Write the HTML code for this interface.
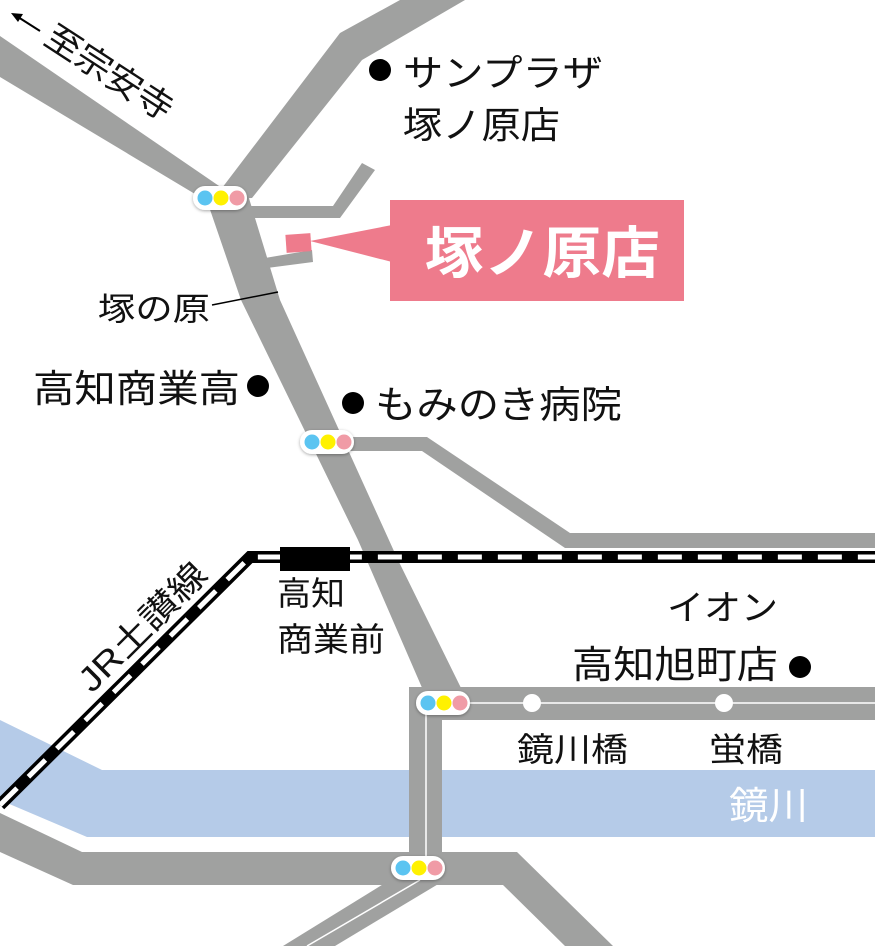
<!DOCTYPE html>
<html><head><meta charset="utf-8"><style>
html,body{margin:0;padding:0;background:#fff;}
svg{display:block;}
text{font-family:"Liberation Sans","Noto Sans CJK JP",sans-serif;fill:#111;}
</style></head><body>
<svg width="875" height="946" viewBox="0 0 875 946" xmlns="http://www.w3.org/2000/svg">
<defs>
<filter id="sh" x="-20%" y="-30%" width="140%" height="170%"><feDropShadow dx="0" dy="1" stdDeviation="1.5" flood-color="#000" flood-opacity="0.35"/></filter>
</defs>
<polygon points="0,720 102,770 875,770 875,837 87,837 0,800" fill="#b5cbe8"/>
<g fill="#a0a1a0">
<polygon points="0,36 222,188 340,33 400,0 465,0 362,60 252,198 205,200 0,77"/>
<polygon points="205,195 248,195 280,300 398,560 462,690 423,690 358,540 241,300"/>
<polygon points="330,437 427,437 570,533 875,533 875,548 565,548 422,451 330,451"/>
<polygon points="240,206 333,206 362,163 375,170 340,218 240,218"/>
<polygon points="265,258 312,250 313,262 267,268"/>
<rect x="409" y="687" width="466" height="33"/>
<rect x="409" y="687" width="33" height="185"/>
<polygon points="0,813 82,852 517,852 613,946 565,946 503,885 73,885 0,852"/>
<polygon points="390,880 445,880 335,946 283,946"/>
</g>
<g stroke="#fff" stroke-width="1.5" fill="none">
<line x1="426" y1="703" x2="875" y2="703"/>
<line x1="426" y1="703" x2="426" y2="870"/>
<line x1="420" y1="880" x2="307" y2="946"/>
</g>
<circle cx="532" cy="703" r="9" fill="#fff"/>
<circle cx="724" cy="703" r="9" fill="#fff"/>
<path d="M0,805 L250,557 L875,557" fill="none" stroke="#000" stroke-width="12" stroke-linejoin="miter"/>
<path d="M0,805 L250,557 L875,557" fill="none" stroke="#fff" stroke-width="5" stroke-dasharray="24,16"/>
<rect x="280" y="547" width="70" height="24" fill="#000"/>
<rect x="286" y="234" width="25" height="18" fill="#ee7b8c" transform="rotate(-4 298 243)"/>
<polygon points="310,241 392,225 392,262" fill="#ee7b8c"/>
<rect x="390" y="200" width="294" height="101" fill="#ee7b8c"/>
<text x="425" y="273" font-size="56" font-weight="bold" textLength="235" lengthAdjust="spacingAndGlyphs" style="fill:#fff">塚ノ原店</text>
<g transform="translate(220,198)">
<rect x="-27" y="-12" width="54" height="24" rx="12" fill="#fff" filter="url(#sh)"/>
<circle cx="-15" cy="0" r="7.5" fill="#5bc4f1"/><circle cx="1" cy="0" r="7.5" fill="#fff100"/><circle cx="17" cy="0" r="7.5" fill="#f09ba6"/>
</g>
<g transform="translate(327,442)">
<rect x="-27" y="-12" width="54" height="24" rx="12" fill="#fff" filter="url(#sh)"/>
<circle cx="-15" cy="0" r="7.5" fill="#5bc4f1"/><circle cx="1" cy="0" r="7.5" fill="#fff100"/><circle cx="17" cy="0" r="7.5" fill="#f09ba6"/>
</g>
<g transform="translate(443,703)">
<rect x="-27" y="-12" width="54" height="24" rx="12" fill="#fff" filter="url(#sh)"/>
<circle cx="-15" cy="0" r="7.5" fill="#5bc4f1"/><circle cx="1" cy="0" r="7.5" fill="#fff100"/><circle cx="17" cy="0" r="7.5" fill="#f09ba6"/>
</g>
<g transform="translate(418,868)">
<rect x="-27" y="-12" width="54" height="24" rx="12" fill="#fff" filter="url(#sh)"/>
<circle cx="-15" cy="0" r="7.5" fill="#5bc4f1"/><circle cx="1" cy="0" r="7.5" fill="#fff100"/><circle cx="17" cy="0" r="7.5" fill="#f09ba6"/>
</g>
<g fill="#000">
<circle cx="380" cy="70" r="11"/>
<circle cx="258" cy="386" r="11"/>
<circle cx="353" cy="403" r="11"/>
<circle cx="800" cy="667" r="11"/>
</g>
<line x1="212" y1="305" x2="278" y2="292" stroke="#000" stroke-width="1.5"/>
<!-- arrow -->
<line x1="18" y1="17" x2="40" y2="31" stroke="#000" stroke-width="2"/>
<polygon points="11,13 23,14 18,22" fill="#000"/>
<text x="403" y="86" font-size="37" textLength="200" lengthAdjust="spacingAndGlyphs">サンプラザ</text>
<text x="403" y="138" font-size="37" textLength="157" lengthAdjust="spacingAndGlyphs">塚ノ原店</text>
<text x="98" y="320" font-size="32" textLength="112" lengthAdjust="spacingAndGlyphs">塚の原</text>
<text x="33" y="402" font-size="38" textLength="207" lengthAdjust="spacingAndGlyphs">高知商業高</text>
<text x="375" y="418" font-size="38" textLength="247" lengthAdjust="spacingAndGlyphs">もみのき病院</text>
<text x="277" y="605" font-size="33" textLength="68" lengthAdjust="spacingAndGlyphs">高知</text>
<text x="277" y="651" font-size="33" textLength="108" lengthAdjust="spacingAndGlyphs">商業前</text>
<text x="667" y="620" font-size="35" textLength="111" lengthAdjust="spacingAndGlyphs">イオン</text>
<text x="572" y="678" font-size="38" textLength="206" lengthAdjust="spacingAndGlyphs">高知旭町店</text>
<text x="517" y="761" font-size="33" textLength="111" lengthAdjust="spacingAndGlyphs">鏡川橋</text>
<text x="709" y="761" font-size="33" textLength="74" lengthAdjust="spacingAndGlyphs">蛍橋</text>
<text x="729" y="819" font-size="38" textLength="79" lengthAdjust="spacingAndGlyphs" style="fill:#fff">鏡川</text>
<text transform="translate(92,694) rotate(-45)" font-size="34" textLength="166" lengthAdjust="spacingAndGlyphs">JR土讃線</text>
<text transform="translate(42,43) rotate(33)" font-size="34" textLength="145" lengthAdjust="spacingAndGlyphs">至宗安寺</text>
</svg>
</body></html>
